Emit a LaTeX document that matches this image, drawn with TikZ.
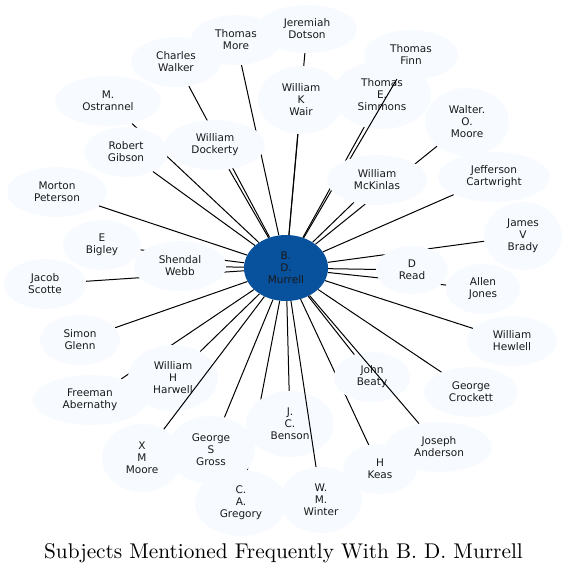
\documentclass[tikz,border=0pt]{standalone}
\usepackage{fontspec}
\newfontfamily\nodefont{DejaVu Sans}
\newfontfamily\titlefont{lmroman10-regular.otf}
\usetikzlibrary{shapes.geometric}
\pgfdeclarelayer{background}
\pgfsetlayers{background,main}
\definecolor{nodefill}{HTML}{F7FBFF}
\definecolor{centerfill}{HTML}{08519C}
\tikzset{
  person/.style args={#1/#2}{ellipse, draw=none, fill=nodefill, inner sep=0pt,
    minimum width=#1pt, minimum height=#2pt, align=center,
    font=\nodefont\fontsize{10.5}{12}\selectfont, text=black!90},
  hub/.style={ellipse, draw=none, fill=centerfill, inner sep=0pt,
    minimum width=84pt, minimum height=66pt, align=center,
    font=\nodefont\fontsize{10.5}{12}\selectfont, text=black!90},
  link/.style={draw=black, line width=1pt}
}
\begin{document}
\begin{tikzpicture}[x=1pt,y=-1pt]
\useasboundingbox (0,0) rectangle (567,574);
\node[hub] (mur) at (286,268) {B.\\D.\\Murrell};
\node[person=100/48] (dotson) at (307,29) {Jeremiah\\Dotson};
\node[person=90/50] (tmore) at (236,40) {Thomas\\More};
\node[person=90/50] (walker) at (176,62) {Charles\\Walker};
\node[person=106/50] (ostr) at (108,101) {M.\\Ostrannel};
\node[person=84/50] (gibson) at (126,152) {Robert\\Gibson};
\node[person=100/50] (dock) at (215,145) {William\\Dockerty};
\node[person=100/50] (peter) at (57,192) {Morton\\Peterson};
\node[person=78/50] (bigley) at (102,245) {E\\Bigley};
\node[person=92/50] (webb) at (180,266) {Shendal\\Webb};
\node[person=82/50] (scotte) at (45,284) {Jacob\\Scotte};
\node[person=80/50] (glenn) at (80,340) {Simon\\Glenn};
\node[person=90/66] (harwell) at (173,378) {William\\H\\Harwell};
\node[person=114/50] (aber) at (90,400) {Freeman\\Abernathy};
\node[person=80/68] (xmoore) at (142,458) {X\\M\\Moore};
\node[person=88/68] (gross) at (211,450) {George\\S\\Gross};
\node[person=92/66] (gregory) at (241,503) {C.\\A.\\Gregory};
\node[person=88/66] (benson) at (290,424) {J.\\C.\\Benson};
\node[person=82/66] (winter) at (321,500) {W.\\M.\\Winter};
\node[person=74/50] (keas) at (380,469) {H\\Keas};
\node[person=106/50] (anderson) at (439,447) {Joseph\\Anderson};
\node[person=76/50] (beaty) at (372,377) {John\\Beaty};
\node[person=94/50] (crockett) at (471,392) {George\\Crockett};
\node[person=90/50] (hewlell) at (512,341) {William\\Hewlell};
\node[person=74/50] (jones) at (483,289) {Allen\\Jones};
\node[person=72/48] (read) at (412,270) {D\\Read};
\node[person=78/68] (brady) at (523,236) {James\\V\\Brady};
\node[person=112/50] (cart) at (494,177) {Jefferson\\Cartwright};
\node[person=84/68] (walter) at (467,122) {Walter.\\O.\\Moore};
\node[person=98/68] (simmons) at (382,95) {Thomas\\E.\\Simmons};
\node[person=94/50] (finn) at (411,55) {Thomas\\Finn};
\node[person=86/68] (wair) at (301,100) {William\\K\\Wair};
% edges drawn over some nodes
\draw[link] (mur) -- (finn);
\draw[link] (mur) -- (anderson);
\draw[link] (mur) -- (xmoore);
\draw[link] (mur) -- (winter);
\node[person=100/50] (mck) at (377,180) {William\\McKinlas};
\begin{pgfonlayer}{background}
\foreach \n in {dotson,tmore,walker,ostr,gibson,dock,peter,bigley,webb,scotte,
  glenn,harwell,aber,gross,gregory,benson,keas,beaty,crockett,hewlell,jones,
  read,brady,cart,walter,simmons,wair,mck}
  \draw[link] (mur) -- (\n);
\end{pgfonlayer}
\node[font=\titlefont\fontsize{21.3}{25}\selectfont, anchor=base, inner sep=0pt] (title) at (283.5,558) {Subjects Mentioned Frequently With B. D. Murrell};
\end{tikzpicture}
\end{document}
